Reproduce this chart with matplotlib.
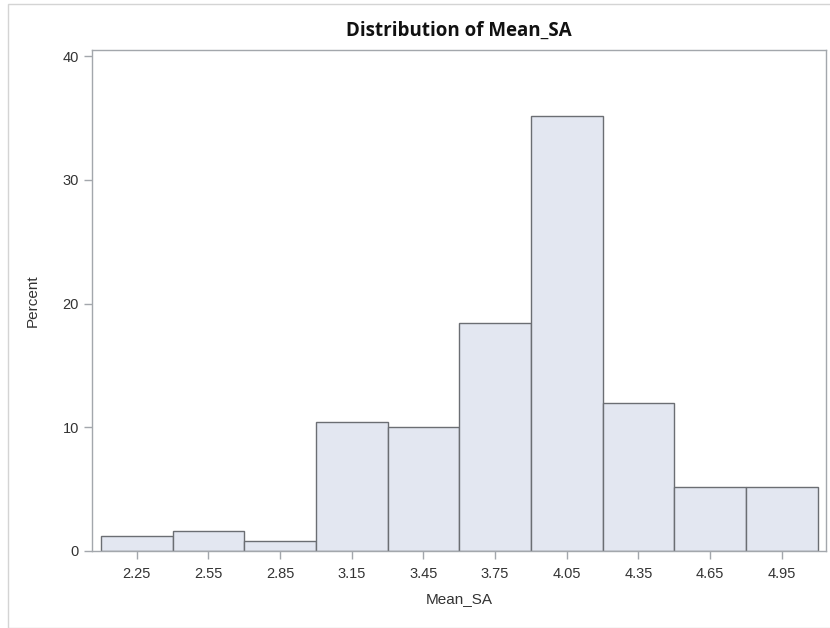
import matplotlib
matplotlib.use("Agg")
import matplotlib.pyplot as plt
from matplotlib.patches import Rectangle

# bin midpoints and percent per bin
midpoints = [2.25, 2.55, 2.85, 3.15, 3.45, 3.75, 4.05, 4.35, 4.65, 4.95]
percent = [1.2, 1.6, 0.8, 10.4, 10.0, 18.4, 35.2, 12.0, 5.2, 5.2]
tick_labels = ["2.25", "2.55", "2.85", "3.15", "3.45", "3.75", "4.05", "4.35", "4.65", "4.95"]
bin_width = 0.3

plt.rcParams['font.family'] = ['Liberation Sans', 'DejaVu Sans']

fig = plt.figure(figsize=(8.3, 6.28), dpi=100)
ax = fig.add_axes([92/830, 77/628, (825.7-92)/830, 501/628])

ax.bar(midpoints, percent, width=bin_width, facecolor="#E3E7F1",
       edgecolor="#6B6E73", linewidth=1.0, zorder=2)

ax.set_xlim(2.063, 5.134)
ax.set_ylim(0, 40.5)
ax.set_xticks(midpoints)
ax.set_xticklabels(tick_labels)
ax.set_yticks([0, 10, 20, 30, 40])

spine_col = "#A3A7AC"
for s in ax.spines.values():
    s.set_color(spine_col)
    s.set_linewidth(1.0)
ax.tick_params(axis="both", colors=spine_col, labelcolor="#333333",
               labelsize=10.5, length=5.5, width=1.0)
ax.tick_params(axis="y", pad=4)
ax.tick_params(axis="x", pad=6)

ax.set_xlabel("Mean_SA", fontsize=11, color="#333333", labelpad=8)
ax.set_ylabel("Percent", fontsize=11, color="#333333", labelpad=16)
ax.set_title("Distribution of Mean_SA", fontsize=13.5, fontweight="bold",
             family=["Open Sans", "DejaVu Sans"], color="#111111", pad=10)

# light outer frame like the SAS output
fig.patches.append(Rectangle((7.5, 0.5), 840, 624, transform=None,
                             fill=False, edgecolor="#D4D4D4", linewidth=1.0))

fig.savefig("out.png", dpi=100)
